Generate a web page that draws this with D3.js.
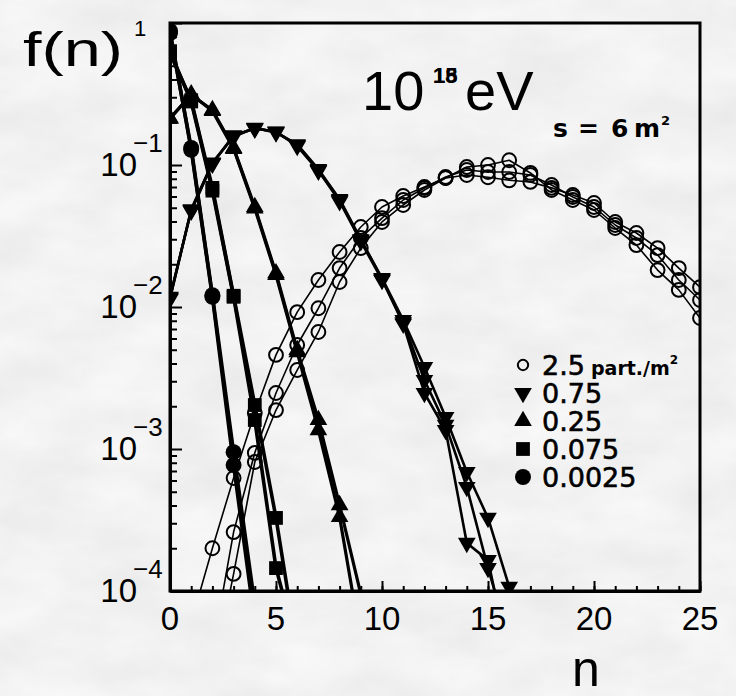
<!DOCTYPE html>
<html>
<head>
<meta charset="utf-8">
<script src="https://cdn.jsdelivr.net/npm/d3@7"></script>
<style>
  html, body { margin: 0; padding: 0; background: #e1e1e1; }
  svg { display: block; }
</style>
</head>
<body>
<svg id="chart" width="736" height="696">
  <defs>
    <filter id="marble" filterUnits="userSpaceOnUse" x="0" y="0" width="736" height="696">
      <feTurbulence type="fractalNoise" baseFrequency="0.012 0.022" numOctaves="4" seed="11"/>
      <feColorMatrix type="matrix"
        values="0.15 0 0 0 0.81
                0.15 0 0 0 0.81
                0.15 0 0 0 0.81
                0 0 0 0 1"/>
    </filter>
  </defs>
</svg>
<script>
// Multiplicity bins n
const nBins = [0,1,2,3,4,5,6,7,8,9,10,11,12,13,14,15,16,17,18,19,20,21,22,23,24,25];

// f(n) for density 2.5 part./m^2 (three runs)
const rho250_a = [null,6.0e-5,2.0e-4,6.25e-4,1.79e-3,4.6e-3,9.2e-3,1.55e-2,2.44e-2,3.66e-2,5.06e-2,6.05e-2,7.0e-2,8.1e-2,8.5e-2,8.2e-2,7.8e-2,7.6e-2,6.9e-2,6.15e-2,5.4e-2,3.97e-2,3.32e-2,2.6e-2,1.88e-2,1.38e-2];
const rho250_b = [null,null,3.8e-5,2.6e-4,9.4e-4,2.48e-3,5.4e-3,9.8e-3,1.88e-2,3.06e-2,4.23e-2,5.67e-2,6.89e-2,8.23e-2,9.22e-2,8.93e-2,8.93e-2,8.51e-2,7.23e-2,5.95e-2,5.06e-2,3.78e-2,3.06e-2,2.32e-2,1.55e-2,1.12e-2];
const rho250_c = [null,null,2.4e-5,1.32e-4,8.1e-4,1.88e-3,3.6e-3,6.67e-3,1.5e-2,2.6e-2,3.97e-2,5.23e-2,6.67e-2,8.1e-2,9.68e-2,0.100,0.108,8.79e-2,6.67e-2,5.67e-2,4.82e-2,3.6e-2,2.73e-2,1.82e-2,1.32e-2,8.37e-3];

// f(n) for density 0.75 part./m^2
const rho075_a = [1.16e-2,4.82e-2,0.103,0.160,0.182,0.171,0.138,9.22e-2,5.67e-2,2.96e-2,1.60e-2,8.1e-3,3.78e-3,1.68e-3,6.89e-4,3.27e-4,1.07e-4];
const rho075_b = [1.18e-2,4.75e-2,0.102,0.162,0.180,0.172,0.136,9.1e-2,5.55e-2,2.9e-2,1.55e-2,7.8e-3,3.06e-3,1.48e-3,5.4e-4,1.45e-4,4.5e-5];
const rho075_c = [1.14e-2,4.88e-2,0.104,0.158,0.183,0.169,0.140,9.35e-2,5.75e-2,3.0e-2,1.58e-2,7.6e-3,2.48e-3,1.36e-3,2.18e-4,1.65e-4,3.3e-5];

// f(n) for density 0.25 part./m^2
const rho025_a = [0.214,0.311,0.244,0.132,5.06e-2,1.73e-2,4.98e-3,1.60e-3,4.03e-4,9.5e-5];
const rho025_b = [0.212,0.315,0.240,0.130,4.95e-2,1.68e-2,4.8e-3,1.36e-3,3.32e-4,4.5e-5];

// f(n) for density 0.075 part./m^2
const rho0075_a = [0.61,0.286,6.9e-2,1.2e-2,2.04e-3,3.27e-4,3.8e-5];
const rho0075_b = [0.63,0.280,6.6e-2,1.18e-2,1.6e-3,1.45e-4,4.0e-5];

// f(n) for density 0.0025 part./m^2
const rho00025_a = [0.85,0.132,1.21e-2,9.5e-4,8.0e-5];
const rho00025_b = [0.88,0.128,1.18e-2,7.7e-4,6.0e-5];

// Axis ticks and labels
const xMajorTicks = [0,5,10,15,20,25];
const xTickLabels = ["0","5","10","15","20","25"];
const yDecades = [1e-1,1e-2,1e-3,1e-4];
const yExponents = ["\u22121","\u22122","\u22123","\u22124"];

// Legend entries
const legendMarkers = ["openCircle","triangleDown","triangleUp","square","circle"];
const legendLabels = ["2.5","0.75","0.25","0.075","0.0025"];

// ---------------------------------------------------------------
const svg = d3.select("#chart");
const W = 736, H = 696;
const plot = {left: 170, right: 700, top: 23, bottom: 591};

svg.append("rect").attr("x", 0).attr("y", 0).attr("width", W).attr("height", H)
  .attr("filter", "url(#marble)");

const x = d3.scaleLinear().domain([0, 25]).range([plot.left, plot.right]);
const y = d3.scaleLog().domain([1e-4, 1]).range([plot.bottom, plot.top]);

svg.select("defs").append("clipPath").attr("id", "plotClip")
  .append("rect")
  .attr("x", plot.left).attr("y", plot.top)
  .attr("width", plot.right - plot.left).attr("height", plot.bottom - plot.top);

const curves = [
  {vals: rho250_a, marker: "openCircle", lw: 1.6},
  {vals: rho250_b, marker: "openCircle", lw: 1.6},
  {vals: rho250_c, marker: "openCircle", lw: 1.6},
  {vals: rho075_a, marker: "triangleDown", lw: 2.6},
  {vals: rho075_b, marker: "triangleDown", lw: 2.6},
  {vals: rho075_c, marker: "triangleDown", lw: 2.6},
  {vals: rho025_a, marker: "triangleUp", lw: 3.2},
  {vals: rho025_b, marker: "triangleUp", lw: 3.2},
  {vals: rho0075_a, marker: "square", lw: 3.6},
  {vals: rho0075_b, marker: "square", lw: 3.6},
  {vals: rho00025_a, marker: "circle", lw: 3.6},
  {vals: rho00025_b, marker: "circle", lw: 3.6}
];

const symbolFor = {
  openCircle:   d3.symbol().type(d3.symbolCircle).size(150),
  circle:       d3.symbol().type(d3.symbolCircle).size(200),
  square:       d3.symbol().type(d3.symbolSquare).size(190),
  triangleUp:   d3.symbol().type(d3.symbolTriangle).size(135),
  triangleDown: d3.symbol().type(d3.symbolTriangle).size(135)
};

function drawMarker(sel, marker, cx, cy, scale) {
  const s = scale || 1;
  const rot = marker === "triangleDown" ? " rotate(180)" : "";
  const p = sel.append("path")
    .attr("d", symbolFor[marker]())
    .attr("transform", `translate(${cx},${cy})${rot} scale(${s})`);
  if (marker === "openCircle") {
    p.attr("fill", "none").attr("stroke", "#000").attr("stroke-width", 2.0 / s);
  } else {
    p.attr("fill", "#000");
  }
}

const gData = svg.append("g").attr("clip-path", "url(#plotClip)");
const line = d3.line()
  .defined(d => d.f != null)
  .x(d => x(d.n))
  .y(d => y(d.f));

curves.forEach(c => {
  const pts = c.vals.map((f, i) => ({n: nBins[i], f: f}));
  gData.append("path")
    .datum(pts)
    .attr("d", line)
    .attr("fill", "none")
    .attr("stroke", "#000")
    .attr("stroke-width", c.lw)
    .attr("stroke-linejoin", "round");
  const g = gData.append("g");
  pts.filter(d => d.f != null && d.f >= 1e-4).forEach(d => {
    drawMarker(g, c.marker, x(d.n), y(d.f));
  });
});

// Axes: ticks pointing into the frame
const yMajor = d3.axisLeft(y).tickValues([1e-4,1e-3,1e-2,1e-1,1]).tickSize(-12).tickSizeOuter(0).tickFormat("");
const yMinor = d3.axisLeft(y)
  .tickValues(y.ticks().filter(t => Math.abs(Math.log10(t) - Math.round(Math.log10(t))) > 1e-6))
  .tickSize(-7).tickSizeOuter(0).tickFormat("");
const xMajor = d3.axisBottom(x).tickValues(xMajorTicks).tickSize(-10).tickSizeOuter(0).tickFormat("");
const xMinor = d3.axisBottom(x).tickValues(nBins).tickSize(-5).tickSizeOuter(0).tickFormat("");

function styleAxis(g) {
  g.select(".domain").attr("stroke", "#000").attr("stroke-width", 3);
  g.selectAll(".tick line").attr("stroke", "#000").attr("stroke-width", 2);
}
svg.append("g").attr("transform", `translate(${plot.left},0)`).call(yMinor).call(styleAxis);
svg.append("g").attr("transform", `translate(${plot.left},0)`).call(yMajor).call(styleAxis);
svg.append("g").attr("transform", `translate(0,${plot.bottom})`).call(xMinor).call(styleAxis);
svg.append("g").attr("transform", `translate(0,${plot.bottom})`).call(xMajor).call(styleAxis);

// Frame
svg.append("rect")
  .attr("x", plot.left).attr("y", plot.top)
  .attr("width", plot.right - plot.left).attr("height", plot.bottom - plot.top)
  .attr("fill", "none").attr("stroke", "#000").attr("stroke-width", 3);

const sans = "'Liberation Sans', Arial, Helvetica, sans-serif";
const dejavu = "'DejaVu Sans', Verdana, sans-serif";

// x tick labels
svg.append("g").selectAll("text").data(xMajorTicks).join("text")
  .attr("x", d => x(d)).attr("y", 630)
  .attr("text-anchor", "middle")
  .attr("font-family", sans).attr("font-size", 33)
  .text((d, i) => xTickLabels[i]);

// y tick labels: 10 with superscript exponent
const yLab = svg.append("g");
yDecades.forEach((v, i) => {
  yLab.append("text")
    .attr("x", 137).attr("y", y(v) + 11)
    .attr("text-anchor", "end")
    .attr("font-family", sans).attr("font-size", 33)
    .text("10");
  yLab.append("text")
    .attr("x", 133).attr("y", y(v) - 13)
    .attr("font-family", sans).attr("font-size", 26)
    .text(yExponents[i]);
});
yLab.append("text")
  .attr("x", 134).attr("y", y(1) + 13)
  .attr("font-family", sans).attr("font-size", 22)
  .text("1");

// Axis titles
svg.append("text")
  .attr("x", 23).attr("y", 66)
  .attr("font-family", sans).attr("font-size", 48)
  .attr("textLength", 100).attr("lengthAdjust", "spacingAndGlyphs")
  .text("f(n)");
svg.append("text")
  .attr("x", 586).attr("y", 686)
  .attr("text-anchor", "middle")
  .attr("font-family", sans).attr("font-size", 50)
  .text("n");

// Energy label
svg.append("text").attr("x", 362).attr("y", 110)
  .attr("font-family", sans).attr("font-size", 56).text("10");
svg.append("text").attr("x", 433).attr("y", 83)
  .attr("font-family", sans).attr("font-weight", "bold").attr("font-size", 22).text("18");
svg.append("text").attr("x", 433).attr("y", 83)
  .attr("font-family", sans).attr("font-weight", "bold").attr("font-size", 22).text("15");
svg.append("text").attr("x", 465).attr("y", 110)
  .attr("font-family", sans).attr("font-size", 56).text("eV");

// Detector area
const sLab = svg.append("text").attr("y", 137)
  .attr("font-family", dejavu).attr("font-weight", "bold").attr("font-size", 25);
sLab.append("tspan").attr("x", 553).text("s");
sLab.append("tspan").attr("x", 578).text("=");
sLab.append("tspan").attr("x", 611).text("6");
sLab.append("tspan").attr("x", 634).text("m");
svg.append("text").attr("x", 661).attr("y", 125)
  .attr("font-family", dejavu).attr("font-weight", "bold").attr("font-size", 13).text("2");

// Legend
const legendY0 = 365, legendDY = 28;
const gLeg = svg.append("g");
legendMarkers.forEach((m, i) => {
  const cy = legendY0 + i * legendDY;
  drawMarker(gLeg, m, 523, cy, m === "openCircle" ? 0.75 : 1.0);
  const t = gLeg.append("text")
    .attr("x", 542).attr("y", cy + 10)
    .attr("font-family", dejavu).attr("font-size", 27)
    .attr("stroke", "#000").attr("stroke-width", 0.6)
    .text(legendLabels[i]);
  if (i === 0) {
    t.append("tspan").attr("font-size", 19).attr("font-weight", "bold").attr("stroke-width", 0).attr("dx", 6).text("part./m");
    t.append("tspan").attr("font-size", 12).attr("font-weight", "bold").attr("stroke-width", 0).attr("dy", -11).text("2");
  }
});
</script>
</body>
</html>
